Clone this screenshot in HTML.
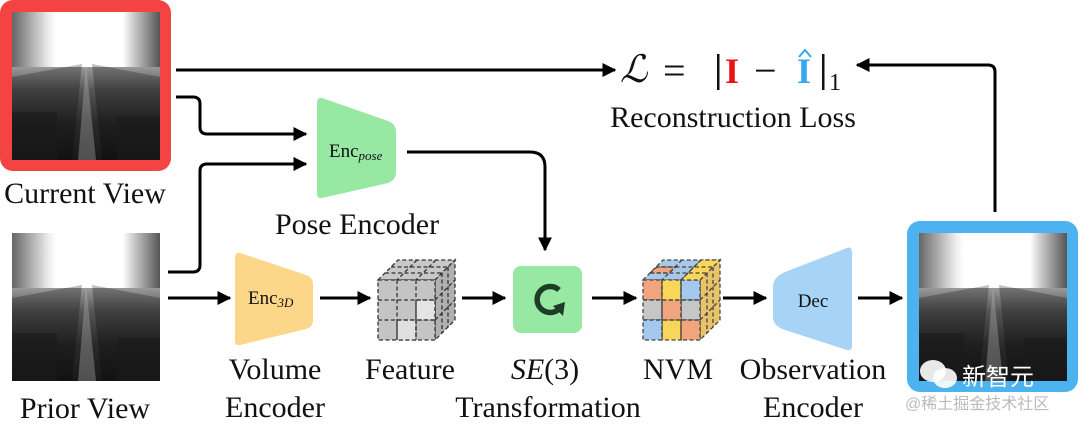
<!DOCTYPE html>
<html><head><meta charset="utf-8"><style>
html,body{margin:0;padding:0;background:#fff;width:1080px;height:427px;overflow:hidden}
svg text{font-family:"Liberation Serif",serif;fill:#111}
</style></head><body>
<svg width="1080" height="427" viewBox="0 0 1080 427" xmlns="http://www.w3.org/2000/svg">
<defs>
<linearGradient id="sky" x1="0" x2="1" y1="0" y2="0">
<stop offset="0" stop-color="#666"/><stop offset="0.25" stop-color="#eee"/><stop offset="0.3" stop-color="#fff"/><stop offset="0.75" stop-color="#fff"/><stop offset="0.82" stop-color="#ccc"/><stop offset="1" stop-color="#555"/></linearGradient>
<linearGradient id="gnd" x1="0" x2="0" y1="0" y2="1">
<stop offset="0" stop-color="#999"/><stop offset="0.25" stop-color="#555"/><stop offset="0.6" stop-color="#2a2a2a"/><stop offset="1" stop-color="#181818"/></linearGradient>
<g id="img">
<rect x="0" y="0" width="148" height="148" fill="url(#sky)"/>
<rect x="0" y="55" width="148" height="93" fill="url(#gnd)"/>
<polygon points="0,65 70,52 60,148 0,148" fill="#000" opacity="0.25"/>
<polygon points="148,65 80,52 90,148 148,148" fill="#000" opacity="0.25"/>
<polygon points="74,52 66,148 84,148" fill="#bbb" opacity="0.35"/>
<rect x="0" y="100" width="45" height="48" fill="#1a1a1a" opacity="0.6"/>
<rect x="105" y="105" width="43" height="43" fill="#1a1a1a" opacity="0.6"/>
</g>
<marker id="ah" viewBox="0 0 10 10" markerWidth="14" markerHeight="14" refX="9" refY="5" orient="auto" markerUnits="userSpaceOnUse"><path d="M0,0 L10,5 L0,10 z" fill="#000"/></marker>
</defs>

<rect x="0" y="0" width="171" height="171" rx="13" fill="#f34343"/>
<use href="#img" x="12" y="12"/>
<text x="85" y="203" font-size="30" text-anchor="middle">Current View</text>
<use href="#img" x="12" y="233"/>
<text x="85" y="418" font-size="30" text-anchor="middle">Prior View</text>
<rect x="907" y="221" width="171" height="171" rx="13" fill="#4db3f0"/>
<use href="#img" x="919" y="233"/>

<g stroke="#000" stroke-width="3" fill="none" marker-end="url(#ah)">
<path d="M176,70 H615"/>
<path d="M176,97 H193 Q200,97 200,104 V127 Q200,134 207,134 H306"/>
<path d="M168,272 H193 Q200,272 200,265 V171 Q200,164 207,164 H306"/>
<path d="M407,152 H530 Q545,152 545,167 V250"/>
<path d="M995,212 V72 Q995,65 988,65 H857"/>
<path d="M168,298 H230"/>
<path d="M320,298 H370"/>
<path d="M462,298 H505"/>
<path d="M592,298 H636"/>
<path d="M723,298 H766"/>
<path d="M858,298 H902"/>
</g>

<text x="620" y="82" font-size="38" font-style="italic">ℒ</text>
<text x="663" y="84" font-size="40">=</text>
<rect x="717" y="54" width="2.5" height="36" fill="#111"/>
<text x="725" y="83" font-size="36" font-weight="bold" style="fill:#e81414">I</text>
<text x="754" y="84" font-size="40">−</text>
<text x="797" y="83" font-size="36" font-weight="bold" style="fill:#35a8ee">I</text>
<path d="M799,57 L805,50 L811,57" stroke="#35a8ee" stroke-width="2" fill="none"/>
<rect x="822" y="54" width="2.5" height="36" fill="#111"/>
<text x="829" y="90" font-size="24">1</text>
<text x="733" y="127" font-size="30" text-anchor="middle">Reconstruction Loss</text>

<path d="M322,98 L388,121 Q396,124 396,132 V172 Q396,180 388,183 L322,198 Q317,199 317,194 V103 Q317,97 322,98 Z" fill="#97e8a3"/>
<text x="329" y="157" font-size="19">Enc<tspan font-size="13" font-style="italic" dy="3">pose</tspan></text>
<text x="357" y="234" font-size="30" text-anchor="middle">Pose Encoder</text>

<path d="M240,253 L306,275 Q313,277 313,285 V320 Q313,327 306,329 L240,345 Q235,346 235,341 V258 Q235,252 240,253 Z" fill="#fdd789"/>
<text x="248" y="304" font-size="19">Enc<tspan font-size="13" font-style="italic" dy="3">3D</tspan></text>
<text x="275" y="379" font-size="30" text-anchor="middle">Volume</text>
<text x="275" y="417" font-size="30" text-anchor="middle">Encoder</text>

<g stroke="#333" stroke-width="1.3" stroke-dasharray="4,2.5">
<polygon points="378,280 398,260 455,260 435,280" fill="#c8c8c8"/>
<polygon points="435,280 455,260 455,320 435,340" fill="#b0b0b0"/>
<rect x="378" y="280" width="57" height="60" fill="#c4c4c4"/>
<rect x="397" y="320" width="19" height="20" fill="#e0e0e0"/>
<rect x="416" y="300" width="19" height="20" fill="#e4e4e4"/>
<path d="M397,280 V340 M416,280 V340 M378,300 H435 M378,320 H435 M385,273 H442 M391,267 H448 M417,260 L397,280 M436,260 L416,280 M435,300 L455,280 M435,320 L455,300 M442,273 V333 M448,267 V327" fill="none"/>
</g>
<text x="410" y="379" font-size="30" text-anchor="middle">Feature</text>

<rect x="513" y="266" width="69" height="67" rx="8" fill="#97e8a3"/>
<path d="M559,290 A13,13 0 1 0 559,309" stroke="#1f3d26" stroke-width="5.5" fill="none"/>
<path d="M553,306 L565,302 L563,316 z" fill="#1f3d26"/>
<text x="545" y="379" font-size="30" text-anchor="middle"><tspan font-style="italic">SE</tspan>(3)</text>
<text x="548" y="417" font-size="30" text-anchor="middle">Transformation</text>

<g stroke="#444" stroke-width="1.3" stroke-dasharray="4,2.5">
<polygon points="643,280 663,260 720,260 700,280" fill="#a9c8e8"/>
<polygon points="700,280 720,260 720,320 700,340" fill="#e8c36a"/>
<rect x="643" y="280" width="19" height="20" fill="#f1a57c"/>
<rect x="662" y="280" width="19" height="60" fill="#f8d65a"/>
<rect x="681" y="280" width="19" height="20" fill="#a5c8ee"/>
<rect x="643" y="300" width="19" height="20" fill="#c6c6c6"/>
<rect x="681" y="300" width="19" height="20" fill="#c6c6c6"/>
<rect x="643" y="320" width="19" height="20" fill="#a5c8ee"/>
<rect x="662" y="300" width="19" height="20" fill="#f1a57c"/>
<rect x="681" y="320" width="19" height="20" fill="#f1a57c"/>
<polygon points="681,280 701,260 720,260 700,280" fill="#f8d65a"/>
<polygon points="650,273 657,267 676,267 669,273" fill="#f1a57c"/>
<path d="M662,280 V340 M681,280 V340 M643,300 H700 M643,320 H700 M650,273 H707 M656,267 H713 M682,260 L662,280 M701,260 L681,280 M700,300 L720,280 M700,320 L720,300 M707,273 V333 M713,267 V327" fill="none"/>
</g>
<text x="678" y="379" font-size="30" text-anchor="middle">NVM</text>

<path d="M847,248 L785,272 Q773,277 773,287 V317 Q773,326 785,330 L847,350 Q852,351 852,346 V253 Q852,246 847,248 Z" fill="#a7d3f6"/>
<text x="813" y="307" font-size="19" text-anchor="middle">Dec</text>
<text x="813" y="379" font-size="30" text-anchor="middle">Observation</text>
<text x="813" y="417" font-size="30" text-anchor="middle">Encoder</text>

<ellipse cx="933" cy="371" rx="13" ry="11" fill="#fff" opacity="0.9"/>
<ellipse cx="945" cy="378" rx="12" ry="10" fill="#fff" opacity="0.9"/>
<text x="962" y="385" font-size="24" style="fill:#fff;font-family:'Liberation Sans','Noto Sans CJK SC',sans-serif">新智元</text>
<text x="905" y="409" font-size="16" style="fill:#bbb;font-family:'Liberation Sans','Noto Sans CJK SC',sans-serif">@稀土掘金技术社区</text>
</svg>
</body></html>
